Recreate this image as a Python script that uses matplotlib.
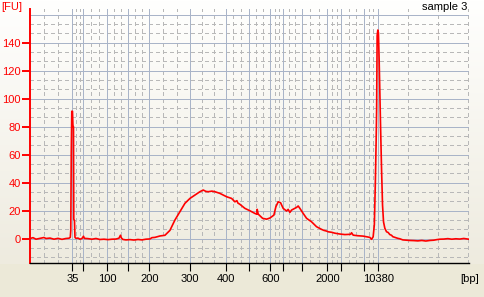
import numpy as np
import matplotlib.pyplot as plt

plt.rcParams['font.family'] = ['Liberation Sans', 'DejaVu Sans']
plt.rcParams['lines.scale_dashes'] = False

# ladder peaks: size [bp] and migration time [s]
ladder_bp = [35, 50, 100, 150, 200, 300, 400, 500, 600, 700, 1000, 2000, 3000, 7000, 10380]
ladder_t = [51.46, 53.66, 58.46, 62.66, 66.86, 75.06, 82.14, 86.86, 91.06, 93.66,
            97.34, 102.52, 105.26, 109.86, 112.66]
ladder_labels = ['35', '', '100', '', '200', '300', '400', '', '600', '', '', '2000', '', '', '10380']

# electropherogram trace (time [s], fluorescence [FU])
time_s = [43.0, 43.6, 44.2, 45.0, 45.8, 46.2, 47.0, 47.8, 48.6, 49.4, 50.2, 50.8,
          51.06, 51.16, 51.26, 51.36, 51.50, 51.60, 51.70, 51.76, 51.90, 52.00,
          52.20, 52.60, 53.00, 53.40, 53.70, 53.90, 54.60, 55.40, 56.20, 57.00,
          57.80, 58.60, 59.40, 60.20, 60.80, 61.10, 61.30, 61.60, 62.20, 63.00,
          63.80, 64.60, 65.40, 66.20, 67.00, 67.40, 68.00, 69.00, 70.00, 71.00,
          72.00, 73.00, 74.00, 75.00, 76.00, 77.00, 77.66, 78.20, 78.66, 79.40,
          80.00, 81.00, 82.34, 83.34, 84.00, 84.40, 84.60, 85.00, 86.00, 87.00,
          88.00, 88.40, 88.46, 88.66, 89.54, 90.34, 91.00, 91.80, 92.20, 92.66,
          93.14, 93.66, 94.34, 94.66, 95.00, 95.34, 96.34, 96.66, 97.00, 97.66,
          98.34, 99.34, 100.34, 101.34, 101.80, 102.34, 102.66, 103.40, 104.00,
          105.00, 106.00, 107.14, 107.34, 107.66, 108.50, 109.66, 110.40, 111.00,
          111.34, 111.66, 111.90, 112.10, 112.26, 112.36, 112.46, 112.60, 112.72,
          112.86, 113.00, 113.14, 113.34, 113.54, 113.74, 114.00, 114.34, 114.66,
          115.00, 115.34, 115.60, 116.00, 116.60, 117.00, 117.60, 118.20, 119.00,
          119.80, 120.60, 121.40, 122.20, 123.00, 123.80, 124.40, 125.00, 125.80,
          126.60, 127.40, 128.20, 129.00, 129.80, 130.80]
fu = [0.2, 0.8, -0.3, 0.3, 0.9, 0.2, 0.5, -0.3, 0.3, -0.4, 0.2, 0.4,
      1.0, 6.0, 62, 91, 91, 80, 80, 14, 13, 1.0,
      0.3, 0.5, -0.3, 0.2, 1.8, 0.3, 0.1, -0.3, 0.2, -0.5,
      -0.3, -0.6, -0.3, -0.2, 0.4, 2.5, 0.5, -0.5, -0.8, -0.6,
      -0.9, -0.5, -0.8, -0.3, -0.1, 0.8, 1.0, 2.0, 2.5, 6.0,
      13.4, 19.3, 25.3, 28.8, 31.2, 33.6, 34.8, 33.8, 33.6, 34.0,
      33.6, 32.4, 30.0, 28.8, 26.4, 27.2, 25.5, 24.6, 21.7, 20.0,
      18.1, 17.5, 21.0, 17.6, 14.6, 14.0, 14.8, 16.9, 22.9, 26.4,
      25.7, 21.7, 19.8, 21.0, 18.8, 20.5, 22.4, 23.4, 21.7, 18.1,
      14.6, 12.1, 8.6, 6.7, 6.0, 5.5, 5.0, 4.6, 4.0,
      3.4, 3.0, 3.2, 4.3, 2.6, 2.2, 1.9, 1.4, 1.0,
      -0.4, 1.4, 10, 40, 70, 93, 145, 149, 147,
      128, 103, 81, 50, 24, 12, 7.5, 5.0, 4.5,
      3.0, 2.5, 1.5, 1.0, 0.3, 0.0, -0.8, -1.0, -1.2,
      -1.3, -1.5, -1.2, -1.6, -1.2, -1.0, -0.6, -0.3, -0.2,
      0.1, -0.3, 0.0, -0.2, 0.2, -0.3]

fu_ticks = [0, 20, 40, 60, 80, 100, 120, 140]
t_min, t_max = 43.0, 130.9
y_min, y_max = -17.5, 164

W, H = 485, 297
fig = plt.figure(figsize=(W / 100, H / 100), dpi=100)

# hintergrund verlauf (weiss -> beige)
bg = fig.add_axes([0, 0, 1, 1], zorder=0)
rows = np.arange(H)
top = np.array([255, 255, 254]) / 255
low = np.array([238, 235, 223]) / 255
beige = np.array([236, 233, 216]) / 255
f = np.clip(rows / 263.0, 0, 1)[:, None]
col = top * (1 - f) + low * f
col[rows >= 264] = beige
img = np.repeat(col[:, None, :], 2, axis=1)
bg.imshow(img, aspect='auto', extent=[0, 1, 0, 1], origin='upper')
bg.axis('off')

ax = fig.add_axes([30 / W, (H - 263.3) / H, 439.3 / W, 254.3 / H], zorder=1)
ax.patch.set_alpha(0)
ax.set_xlim(t_min, t_max)
ax.set_ylim(y_min, y_max)

major_c = '#a9b4c8'
minor_c = '#b8b8b8'
dash = (0, (2.2, 2.4))
glw = 0.72

# horizontale gitterlinien
for v in range(0, 161, 20):
    ax.axhline(v, color=major_c, lw=glw, zorder=1, antialiased=False)
for v in np.arange(-40, 161, 20 / 3):
    if abs(v - round(v / 20) * 20) > 0.5 and v > y_min:
        ax.axhline(v, color=minor_c, lw=glw, ls=dash, zorder=0.5, antialiased=False)

# vertikale gitterlinien
edges = [t_min] + ladder_t
for a, b in zip(edges[:-1], edges[1:]):
    for k in (1, 2):
        ax.axvline(a + (b - a) * k / 3, color=minor_c, lw=glw, ls=dash, zorder=0.5,
                   antialiased=False)
for k in (1, 2, 3):
    ax.axvline(ladder_t[-1] + 6.0 * k, color=minor_c, lw=glw, ls=dash, zorder=0.5,
               antialiased=False)
for t in ladder_t:
    ax.axvline(t, color=major_c, lw=glw, zorder=1, antialiased=False)

ax.plot(time_s, fu, color='#ff0000', lw=1.2, zorder=3)

ax.set_xticks(ladder_t)
ax.set_xticklabels(ladder_labels)
ax.set_yticks(fu_ticks)
ax.set_yticklabels([str(v) for v in fu_ticks])
ax.tick_params(axis='x', direction='out', length=5.5, width=0.8, color='black',
               labelsize=8, pad=2.5)
ax.tick_params(axis='y', direction='out', length=5.8, width=1.4, color='#ff0000',
               labelcolor='#ff0000', labelsize=8, pad=1)

for s in ('top', 'right'):
    ax.spines[s].set_visible(False)
ax.spines['left'].set_color('#ff0000')
ax.spines['left'].set_linewidth(1.4)
ax.spines['bottom'].set_color('black')
ax.spines['bottom'].set_linewidth(1.0)

fig.text(1 / W, 1 - 7.5 / H, '[FU]', color='#ff0000', fontsize=8, va='center', ha='left')
fig.text(467 / W, 1 - 7.5 / H, 'sample 3', color='black', fontsize=8, va='center', ha='right')
fig.text(479 / W, 1 - 279 / H, '[bp]', color='black', fontsize=8, va='center', ha='right')

fig.savefig('out.png', dpi=100)
